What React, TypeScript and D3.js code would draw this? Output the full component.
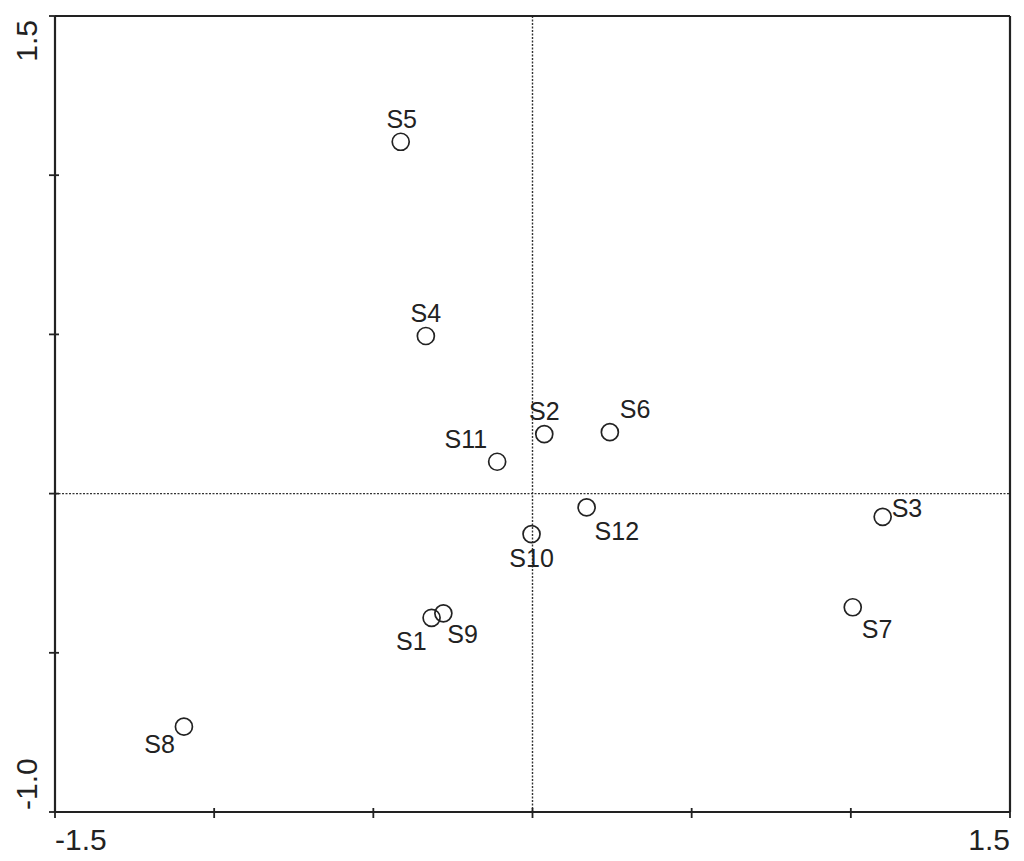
import React from "react";
import * as d3 from "d3";

// ---- data ----
const sites = ["S1", "S2", "S3", "S4", "S5", "S6", "S7", "S8", "S9", "S10", "S11", "S12"];
const axis1 = [-0.317, 0.037, 1.1, -0.335, -0.414, 0.243, 1.006, -1.095, -0.28, -0.003, -0.111, 0.17];
const axis2 = [-0.39, 0.187, -0.073, 0.495, 1.105, 0.193, -0.357, -0.732, -0.376, -0.127, 0.1, -0.043];
const xDomain = [-1.5, 1.5];
const yDomain = [-1.0, 1.5];
const xEndLabels = ["-1.5", "1.5"];
const yEndLabels = ["-1.0", "1.5"];

// ---- label placement (presentation only) ----
type Place = { dx: number; dy: number; anchor: "start" | "middle" | "end" };
const labelPlace: Record<string, Place> = {
  S1: { dx: -5, dy: 32, anchor: "end" },
  S2: { dx: 0, dy: -14, anchor: "middle" },
  S3: { dx: 9, dy: 0, anchor: "start" },
  S4: { dx: 0, dy: -14, anchor: "middle" },
  S5: { dx: 1, dy: -14, anchor: "middle" },
  S6: { dx: 10, dy: -14, anchor: "start" },
  S7: { dx: 9, dy: 31, anchor: "start" },
  S8: { dx: -9, dy: 26, anchor: "end" },
  S9: { dx: 4, dy: 30, anchor: "start" },
  S10: { dx: 0, dy: 33, anchor: "middle" },
  S11: { dx: -10, dy: -14, anchor: "end" },
  S12: { dx: 8, dy: 33, anchor: "start" },
};

const W = 1024;
const H = 861;
const L = 55, R = 1010, T = 16, B = 812;
const FONT = "'Liberation Sans', Arial, sans-serif";
const INK = "#222";

export default function App() {
  const x = d3.scaleLinear().domain(xDomain).range([L, R]);
  const y = d3.scaleLinear().domain(yDomain).range([B, T]);
  const xt = x.ticks(6);
  const yt = y.ticks(5);

  return (
    <svg
      width={W}
      height={H}
      style={{ position: "absolute", left: 0, top: 0, background: "#fff" }}
      fontFamily={FONT}
    >
      {/* zero reference lines */}
      <line x1={x(0)} x2={x(0)} y1={T} y2={B} stroke="#333" strokeWidth={1.4} strokeDasharray="2,1.5" />
      <line x1={L} x2={R} y1={y(0)} y2={y(0)} stroke="#333" strokeWidth={1.4} strokeDasharray="2,1.5" />

      {/* frame */}
      <line x1={L} x2={R} y1={T} y2={T} stroke={INK} strokeWidth={2.2} />
      <line x1={R} x2={R} y1={T} y2={B} stroke={INK} strokeWidth={2.2} />
      <line x1={L} x2={L} y1={T} y2={B} stroke={INK} strokeWidth={2.2} />
      <line x1={L} x2={R} y1={B} y2={B} stroke={INK} strokeWidth={2.2} />

      {/* ticks */}
      {yt.map((v) => (
        <line key={"yt" + v} x1={L - 6} x2={L + 4} y1={y(v)} y2={y(v)} stroke={INK} strokeWidth={1.8} />
      ))}
      {xt.map((v) => (
        <line key={"xt" + v} x1={x(v)} x2={x(v)} y1={B - 4} y2={B + 6} stroke={INK} strokeWidth={1.8} />
      ))}

      {/* axis end labels */}
      <text x={x(xDomain[0])} y={850} fontSize={30} textAnchor="start" fill={INK}>
        {xEndLabels[0]}
      </text>
      <text x={x(xDomain[1])} y={850} fontSize={30} textAnchor="end" fill={INK}>
        {xEndLabels[1]}
      </text>
      <text transform={`translate(37, ${y(yDomain[0]) - 2}) rotate(-90)`} fontSize={30} textAnchor="start" fill={INK}>
        {yEndLabels[0]}
      </text>
      <text transform={`translate(37, ${y(yDomain[1]) + 4}) rotate(-90)`} fontSize={30} textAnchor="end" fill={INK}>
        {yEndLabels[1]}
      </text>

      {/* points */}
      {sites.map((s, i) => {
        const cx = x(axis1[i]);
        const cy = y(axis2[i]);
        const p = labelPlace[s];
        return (
          <g key={s}>
            <circle cx={cx} cy={cy} r={8.5} fill="none" stroke={INK} strokeWidth={1.7} />
            <text x={cx + p.dx} y={cy + p.dy} fontSize={25} textAnchor={p.anchor} fill={INK}>
              {s}
            </text>
          </g>
        );
      })}
    </svg>
  );
}
